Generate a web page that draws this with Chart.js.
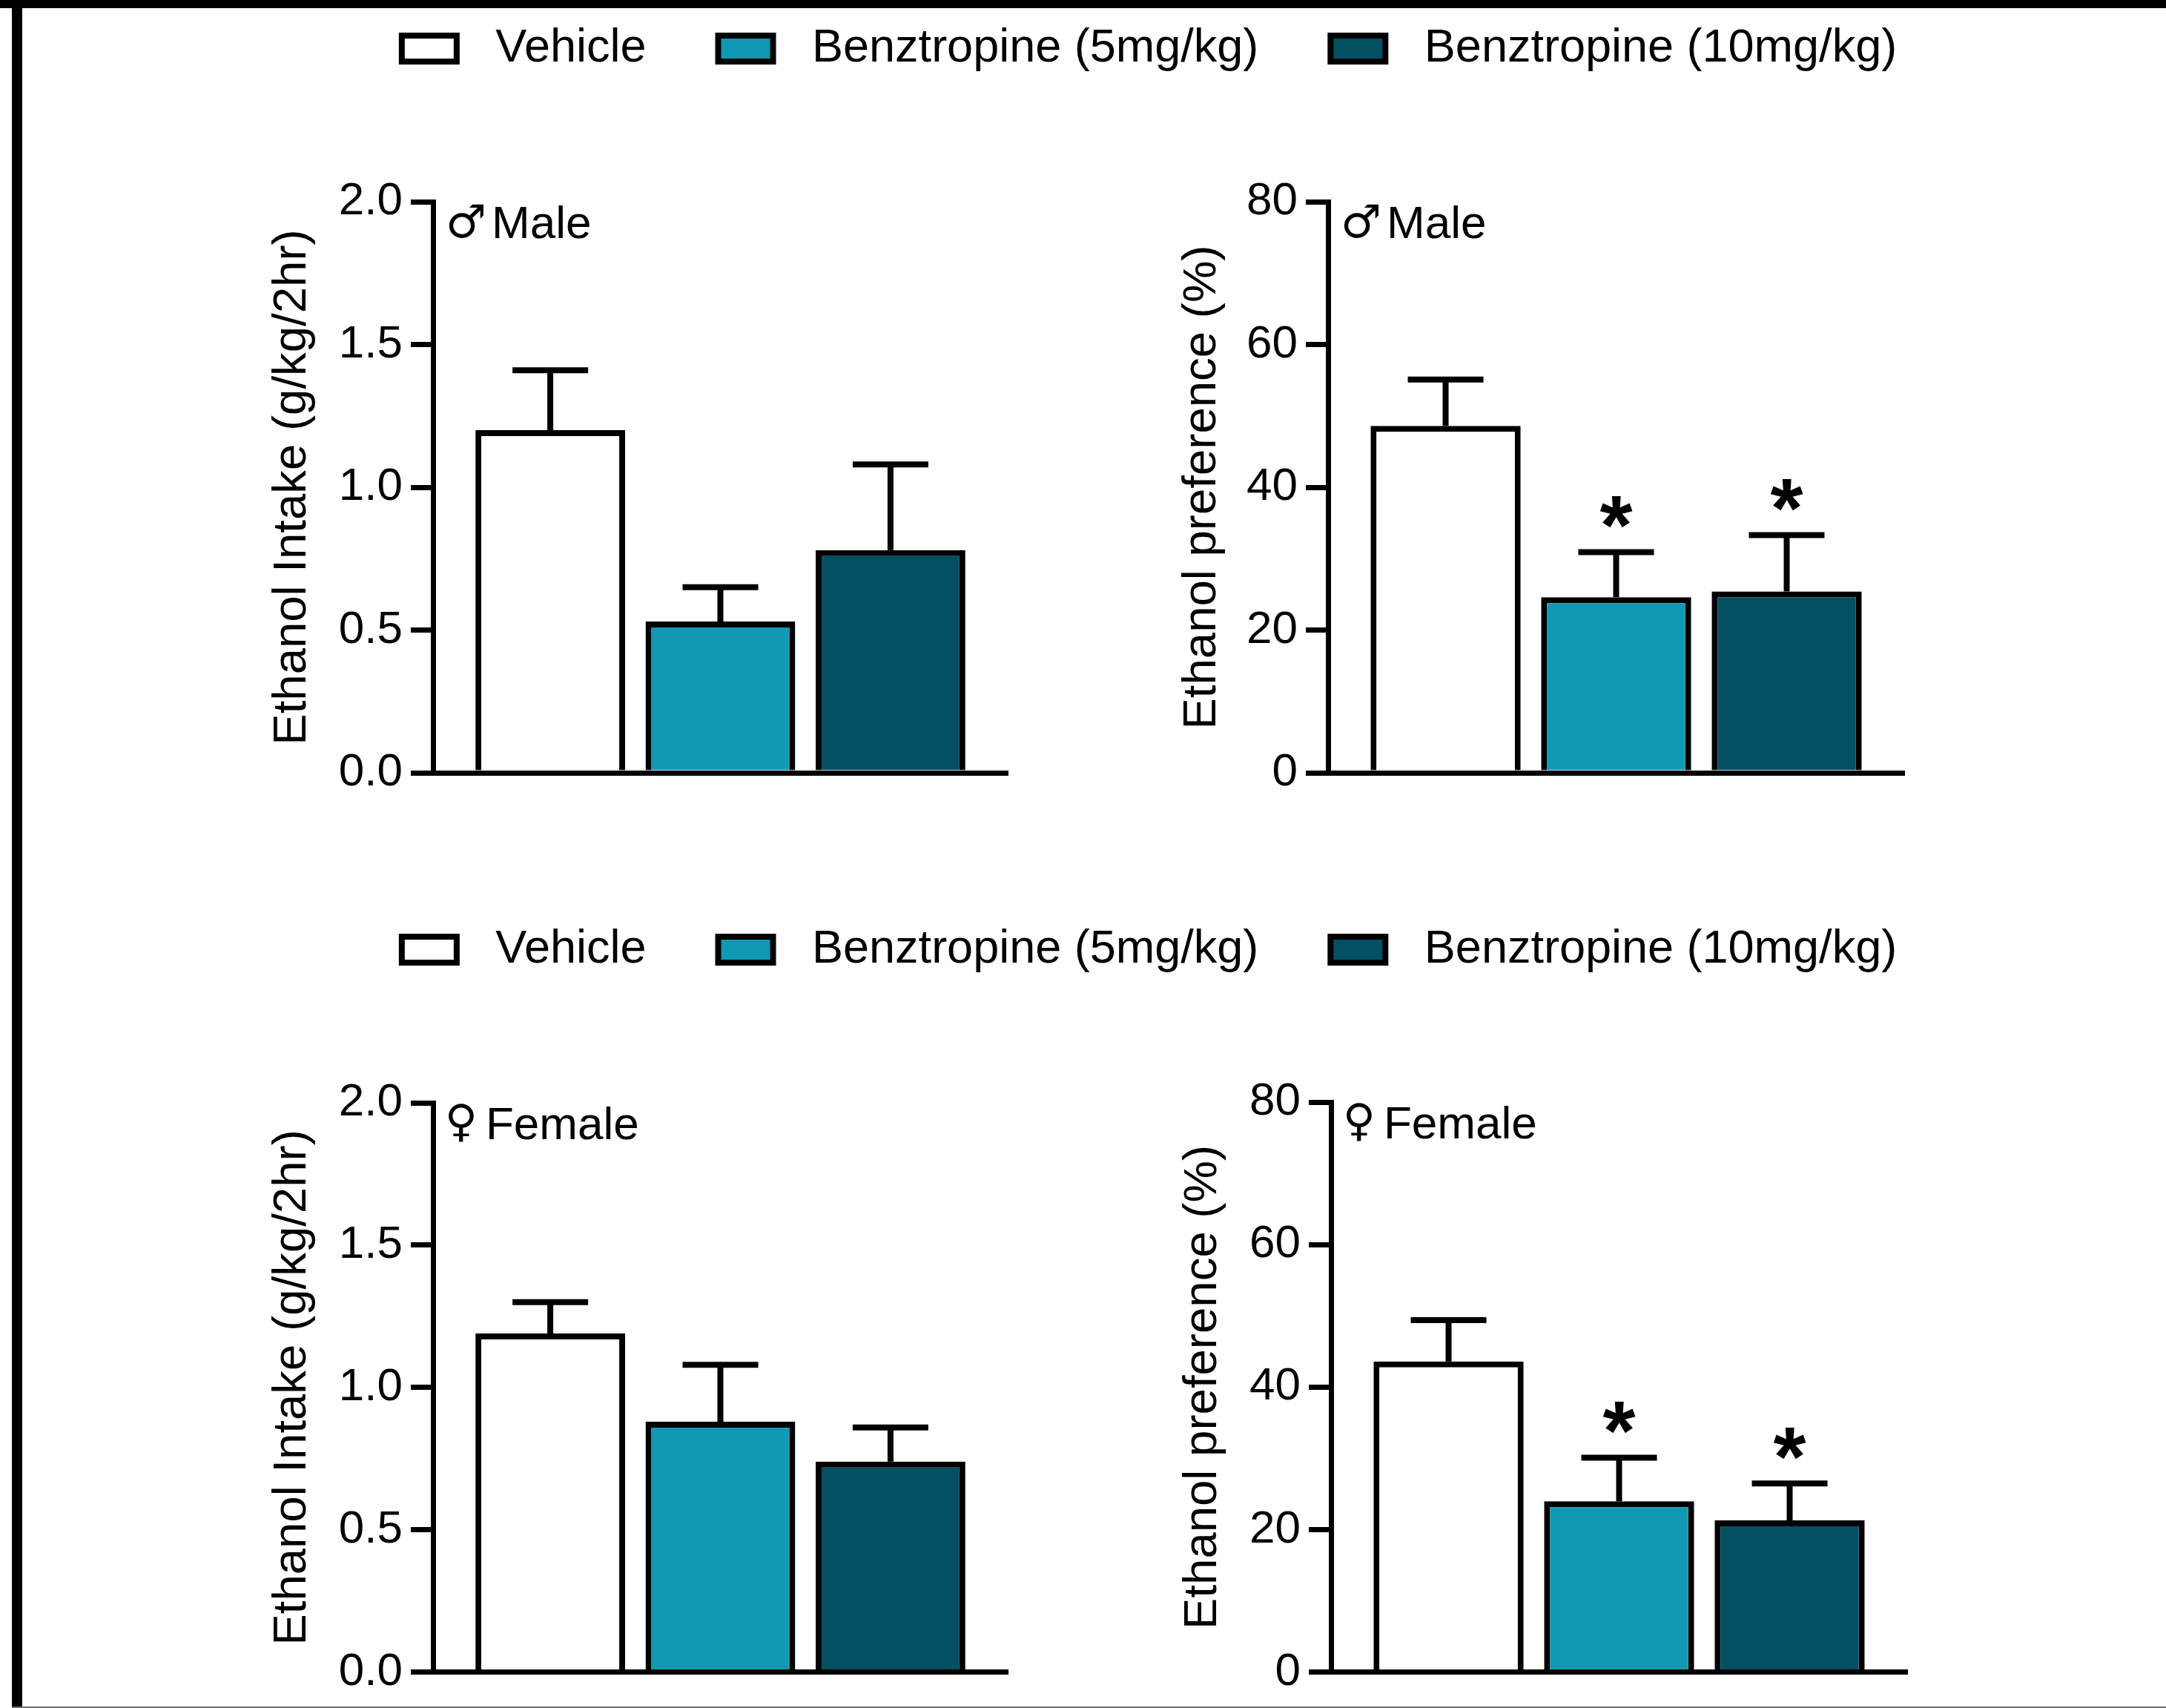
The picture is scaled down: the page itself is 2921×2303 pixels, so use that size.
<!DOCTYPE html>
<html>
<head>
<meta charset="utf-8">
<script src="https://cdn.jsdelivr.net/npm/chart.js@4.4.1/dist/chart.umd.min.js"></script>
<style>
html,body{margin:0;padding:0;background:#fff;width:2921px;height:2303px;overflow:hidden;position:relative;}
canvas{position:absolute;}
.frame{position:absolute;background:#000;}
</style>
</head>
<body>
<div class="frame" style="left:0;top:0;width:2921px;height:11px"></div>
<div class="frame" style="left:16px;top:0;width:14px;height:2303px"></div>
<div class="frame" style="left:16px;top:2301px;width:2905px;height:2px;background:#6e6e6e"></div>
<canvas id="legendTop"></canvas>
<canvas id="legendBottom"></canvas>
<canvas id="maleIntake"></canvas>
<canvas id="malePref"></canvas>
<canvas id="femaleIntake"></canvas>
<canvas id="femalePref"></canvas>
<script>
// ---------------- data ----------------
const groups = ['Vehicle', 'Benztropine (5mg/kg)', 'Benztropine (10mg/kg)'];
const groupColors = ['#FFFFFF', '#1199B3', '#045063'];

const intakeTicks = [0, 0.5, 1.0, 1.5, 2.0];
const prefTicks = [0, 20, 40, 60, 80];
const intakeTitle = 'Ethanol Intake (g/kg/2hr)';
const prefTitle = 'Ethanol preference (%)';

const maleIntakeMean = [1.20, 0.53, 0.78];
const maleIntakeSem  = [0.21, 0.12, 0.30];
const malePrefMean   = [48.6, 24.6, 25.4];
const malePrefSem    = [6.5, 6.3, 7.9];
const femaleIntakeMean = [1.19, 0.88, 0.74];
const femaleIntakeSem  = [0.11, 0.20, 0.12];
const femalePrefMean   = [43.6, 24.0, 21.3];
const femalePrefSem    = [5.8, 6.1, 5.2];

const noSig = ['', '', ''];
const malePrefSig = ['', '*', '*'];
const femalePrefSig = ['', '*', '*'];

// ---------------- setup ----------------
Chart.defaults.font.family = '"Liberation Sans", Arial, Helvetica, sans-serif';
Chart.defaults.color = '#000';

const TITLE_SIZE = 63.5, TITLE_LH = 1.2;

function errorPlugin(sems, sig) {
  return {
    id: 'errbars',
    afterDatasetsDraw(chart) {
      const ctx = chart.ctx, ys = chart.scales.y;
      ctx.save();
      ctx.strokeStyle = '#000';
      ctx.lineWidth = 8;
      ctx.lineCap = 'butt';
      chart.data.datasets.forEach((ds, i) => {
        const bar = chart.getDatasetMeta(i).data[0];
        const top = ys.getPixelForValue(ds.data[0] + sems[i]);
        ctx.beginPath();
        ctx.moveTo(bar.x, bar.y);
        ctx.lineTo(bar.x, top);
        ctx.moveTo(bar.x - 51, top);
        ctx.lineTo(bar.x + 51, top);
        ctx.stroke();
        if (sig[i]) {
          const fam = '"Liberation Sans"';
          ctx.font = 'bold 100px ' + fam;
          let m = ctx.measureText(sig[i]);
          const h100 = m.actualBoundingBoxAscent + m.actualBoundingBoxDescent;
          const size = 100 * 43 / h100;
          ctx.font = 'bold ' + size + 'px ' + fam;
          m = ctx.measureText(sig[i]);
          const cy = top - 54;
          const base = cy + (m.actualBoundingBoxAscent - m.actualBoundingBoxDescent) / 2;
          ctx.fillStyle = '#000';
          ctx.textAlign = 'left';
          ctx.textBaseline = 'alphabetic';
          const inkW = m.actualBoundingBoxLeft + m.actualBoundingBoxRight;
          ctx.fillText(sig[i], bar.x - inkW / 2 + m.actualBoundingBoxLeft, base);
        }
      });
      ctx.restore();
    }
  };
}

function labelPlugin(symbol, word, symH, symDrop, gap) {
  return {
    id: 'sexlabel',
    afterDraw(chart) {
      const ctx = chart.ctx, a = chart.chartArea;
      ctx.save();
      ctx.fillStyle = '#000';
      ctx.textAlign = 'left';
      ctx.textBaseline = 'alphabetic';
      const base = a.top + 49;
      ctx.font = '100px "DejaVu Sans"';
      let m = ctx.measureText(symbol);
      const size = 100 * symH / (m.actualBoundingBoxAscent + m.actualBoundingBoxDescent);
      ctx.font = size + 'px "DejaVu Sans"';
      m = ctx.measureText(symbol);
      const sx = a.left + 21;
      const px = sx + m.actualBoundingBoxLeft;
      const py = base + symDrop - m.actualBoundingBoxDescent;
      ctx.fillText(symbol, px, py);
      const wx = px + m.actualBoundingBoxRight + gap;
      ctx.font = '62px "Liberation Sans"';
      ctx.fillText(word, wx, base);
      ctx.restore();
    }
  };
}

function makePanel(id, cfg) {
  const cv = document.getElementById(id);
  const box = cfg.box, area = cfg.area;
  cv.width = box.w; cv.height = box.h;
  cv.style.left = box.l + 'px'; cv.style.top = box.t + 'px';
  const padLeft = cfg.titleX - box.l - TITLE_SIZE * TITLE_LH / 2;
  const yWidth = area.l - box.l - padLeft;
  const ticks = cfg.ticks;
  new Chart(cv, {
    type: 'bar',
    data: {
      labels: [''],
      datasets: groups.map((g, i) => ({
        label: g,
        data: [cfg.means[i]],
        backgroundColor: groupColors[i],
        borderColor: '#000',
        borderWidth: 8,
        borderSkipped: 'start',
        categoryPercentage: 0.888,
        barPercentage: 0.88
      }))
    },
    options: {
      responsive: false,
      animation: false,
      devicePixelRatio: 1,
      events: [],
      layout: {
        padding: {
          left: padLeft,
          right: box.l + box.w - area.r,
          top: area.t - box.t,
          bottom: box.t + box.h - area.b
        }
      },
      plugins: { legend: { display: false }, tooltip: { enabled: false } },
      scales: {
        x: {
          type: 'category',
          grid: { display: false },
          ticks: { display: false },
          border: { display: true, color: '#000', width: 7 },
          afterFit: s => { s.height = 0; }
        },
        y: {
          type: 'linear',
          min: ticks[0],
          max: ticks[ticks.length - 1],
          afterBuildTicks: s => { s.ticks = ticks.map(v => ({ value: v })); },
          ticks: {
            color: '#000',
            font: { size: 62 },
            padding: 11,
            callback: v => Number(v).toFixed(cfg.decimals)
          },
          grid: {
            display: true, drawOnChartArea: false, drawTicks: true,
            tickLength: 30, lineWidth: 7, color: '#000'
          },
          border: { display: true, color: '#000', width: 7 },
          title: {
            display: true, text: cfg.title, color: '#000',
            font: { size: TITLE_SIZE, lineHeight: TITLE_LH }, padding: 0
          },
          afterFit: s => { s.width = yWidth; }
        }
      }
    },
    plugins: [errorPlugin(cfg.sems, cfg.sig), labelPlugin(cfg.symbol, cfg.word, cfg.symH, cfg.symDrop, cfg.gap)]
  });
}

function makeLegend(id, centerY) {
  const cv = document.getElementById(id);
  const W = 2800, H = 500;
  cv.width = W; cv.height = H;
  cv.style.left = (1549.5 - W / 2) + 'px';
  const fontSize = 63, pad = 97;
  cv.style.top = (centerY - pad - fontSize / 2) + 'px';
  new Chart(cv, {
    type: 'bar',
    data: {
      labels: [],
      datasets: groups.map((g, i) => ({
        label: g, data: [], backgroundColor: groupColors[i],
        borderColor: '#000', borderWidth: 8
      }))
    },
    options: {
      responsive: false, animation: false, devicePixelRatio: 1, events: [],
      layout: { padding: 0 },
      scales: { x: { display: false }, y: { display: false } },
      plugins: {
        tooltip: { enabled: false },
        legend: {
          display: true, position: 'top', align: 'center', maxHeight: 480,
          labels: {
            boxWidth: 74, boxHeight: 35, padding: pad, color: '#000',
            font: { size: fontSize },
            generateLabels: chart => Chart.defaults.plugins.legend.labels.generateLabels(chart)
              .map(l => Object.assign({}, l, { text: '\u2004' + l.text }))
          }
        }
      }
    }
  });
}

makeLegend('legendTop', 65.5);
makeLegend('legendBottom', 1280.5);

makePanel('maleIntake', {
  box: { l: 330, t: 180, w: 1130, h: 920 },
  area: { l: 584, r: 1359, t: 272, b: 1042 },
  titleX: 394, ticks: intakeTicks, decimals: 1, title: intakeTitle,
  means: maleIntakeMean, sems: maleIntakeSem, sig: noSig,
  symbol: '\u2642', word: 'Male', symH: 46, symDrop: 0, gap: 11
});
makePanel('malePref', {
  box: { l: 1530, t: 180, w: 1150, h: 920 },
  area: { l: 1791, r: 2568, t: 272, b: 1042 },
  titleX: 1621, ticks: prefTicks, decimals: 0, title: prefTitle,
  means: malePrefMean, sems: malePrefSem, sig: malePrefSig,
  symbol: '\u2642', word: 'Male', symH: 46, symDrop: 0, gap: 11
});
makePanel('femaleIntake', {
  box: { l: 330, t: 1395, w: 1130, h: 908 },
  area: { l: 584, r: 1359, t: 1487, b: 2258 },
  titleX: 394, ticks: intakeTicks, decimals: 1, title: intakeTitle,
  means: femaleIntakeMean, sems: femaleIntakeSem, sig: noSig,
  symbol: '\u2640', word: 'Female', symH: 52, symDrop: 4, gap: 16
});
makePanel('femalePref', {
  box: { l: 1530, t: 1395, w: 1150, h: 908 },
  area: { l: 1795, r: 2572, t: 1486, b: 2258 },
  titleX: 1622, ticks: prefTicks, decimals: 0, title: prefTitle,
  means: femalePrefMean, sems: femalePrefSem, sig: femalePrefSig,
  symbol: '\u2640', word: 'Female', symH: 52, symDrop: 4, gap: 16
});
</script>
</body>
</html>
